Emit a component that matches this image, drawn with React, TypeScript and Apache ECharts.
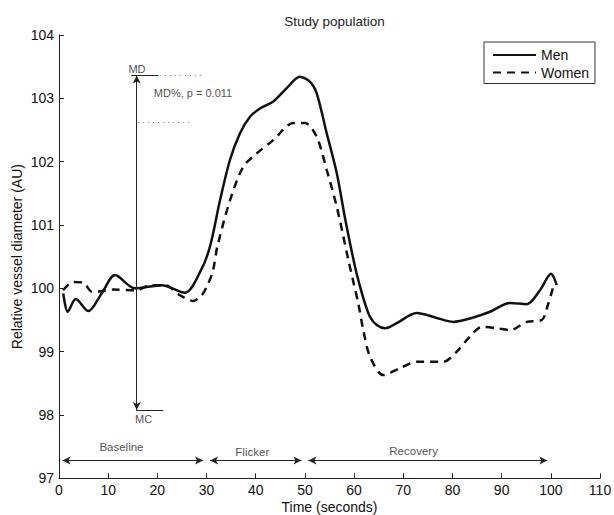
import React, { useEffect, useRef } from "react";
import * as echarts from "echarts";

// ---- data ----
const menTime = [0.87, 1.77, 3.4, 5.96, 8.68, 11.39, 15.45, 20.88, 25.62, 28.9, 30.7, 32.74, 34.77, 36.8, 38.84, 40.87, 43.57, 46.3, 48.96, 51.04, 52.4, 54.43, 56.47, 58.3, 60.19, 61.2, 62.22, 63.24, 64.6, 66.29, 68.67, 72.73, 76.5, 80.17, 84.24, 87.63, 91.7, 95.1, 97.8, 100.04, 101.2];
const menValue = [99.92, 99.63, 99.83, 99.64, 99.92, 100.21, 100.0, 100.05, 99.93, 100.29, 100.66, 101.39, 102.03, 102.45, 102.71, 102.84, 102.95, 103.16, 103.34, 103.26, 103.08, 102.45, 101.82, 101.05, 100.34, 100.03, 99.76, 99.55, 99.42, 99.37, 99.45, 99.61, 99.54, 99.47, 99.54, 99.63, 99.77, 99.75, 99.97, 100.23, 100.05];

const womenTime = [0.81, 2.91, 4.94, 6.65, 7.99, 11.04, 15.8, 18.5, 21.55, 24.6, 27.31, 29.02, 30.36, 31.31, 32.2, 34.77, 37.47, 40.2, 43.57, 47.64, 50.02, 52.4, 54.43, 56.47, 58.83, 60.0, 60.86, 61.87, 63.24, 65.94, 69.34, 72.73, 75.44, 78.14, 80.87, 83.57, 85.95, 89.0, 91.7, 95.1, 98.15, 99.49, 100.51];
const womenValue = [99.97, 100.1, 100.09, 99.95, 99.95, 99.98, 99.97, 100.05, 100.05, 99.89, 99.8, 99.89, 100.08, 100.28, 100.66, 101.39, 101.92, 102.13, 102.34, 102.61, 102.61, 102.39, 101.87, 101.29, 100.45, 100.05, 99.76, 99.34, 98.92, 98.63, 98.74, 98.84, 98.84, 98.84, 99.0, 99.24, 99.39, 99.37, 99.34, 99.47, 99.5, 99.76, 100.03];

const xTicks = { min: 0, max: 110, interval: 10 };
const yTicks = { min: 97, max: 104, interval: 1 };

// phases
const phaseNames = ["Baseline", "Flicker", "Recovery"];
const phaseStart = [0, 30, 50];
const phaseEnd = [30, 50, 100];
const phaseLabelX = [12.7, 39.3, 72.1];
const phaseLabelY = [97.49, 97.42, 97.43];
const phaseArrowY = 97.28;

// MD / MC annotation
const mdArrowX = 15.8;
const menPeak = 103.36;
const womenPeak = 102.62;
const mcLevel = 98.08;
const mdLineX = [14.7, 20.2];
const mdDotX = [20.5, 29.3];
const womenDotX = [16.1, 27.0];
const mcLineX = [15.7, 21.2];
const annoTexts = ["MD", "MD%, p = 0.011", "MC"];
const annoX = [15.86, 27.25, 17.2];
const annoY = [103.47, 103.08, 97.94];

const FONT = "'Liberation Sans', Arial, Helvetica, sans-serif";

export default function App() {
  const ref = useRef<HTMLDivElement>(null);
  useEffect(() => {
    document.body.style.margin = "0";
    if (!ref.current) return;
    const chart = echarts.init(ref.current, null, { renderer: "svg" });

    const inset = 0.7;
    const seg = (x1: number, y1: number, x2: number, y2: number, style: any, arrows: boolean) => [
      { coord: [x1, y1], symbol: arrows ? "arrow" : "none", lineStyle: style },
      { coord: [x2, y2], symbol: arrows ? "arrow" : "none", lineStyle: style },
    ];
    const solidThin = { color: "#222", width: 1, type: "solid" };
    const dotted = { color: "#777", width: 1, type: [1, 4] };

    const markData: any[] = [
      seg(mdArrowX, mcLevel, mdArrowX, menPeak, solidThin, true),
      seg(mdLineX[0], menPeak, mdLineX[1], menPeak, solidThin, false),
      seg(mdDotX[0], menPeak, mdDotX[1], menPeak, dotted, false),
      seg(womenDotX[0], womenPeak, womenDotX[1], womenPeak, dotted, false),
      seg(mcLineX[0], mcLevel, mcLineX[1], mcLevel, solidThin, false),
    ];
    phaseNames.forEach((_, i) => {
      markData.push(seg(phaseStart[i] + inset, phaseArrowY, phaseEnd[i] - inset, phaseArrowY, { color: "#222", width: 1.2, type: "solid" }, true));
    });

    const textData: any[] = [];
    annoTexts.forEach((t, i) => textData.push({ name: t, value: [annoX[i], annoY[i]], label: { fontSize: 11 } }));
    phaseNames.forEach((t, i) => textData.push({ name: t, value: [phaseLabelX[i], phaseLabelY[i]], label: { fontSize: 11.5 } }));

    chart.setOption({
      animation: false,
      textStyle: { fontFamily: FONT },
      title: {
        text: "Study population",
        left: 329.5,
        textAlign: "center",
        top: 9,
        textStyle: { fontSize: 13.5, fontWeight: "normal", color: "#222", fontFamily: FONT },
      },
      legend: {
        data: ["Men", "Women"],
        orient: "vertical",
        left: 484,
        top: 42,
        itemWidth: 43,
        itemHeight: 14,
        itemGap: 3.5,
        padding: [6, 6, 4, 8],
        borderColor: "#333",
        borderWidth: 1,
        backgroundColor: "#fff",
        itemStyle: { opacity: 0 },
        textStyle: { fontSize: 14, color: "#111", fontFamily: FONT },
      },
      grid: { left: 59, right: 14, top: 35, bottom: 36.7, outerBoundsMode: "none", containLabel: false },
      xAxis: {
        type: "value",
        min: xTicks.min,
        max: xTicks.max,
        interval: xTicks.interval,
        name: "Time (seconds)",
        nameLocation: "middle",
        nameGap: 22,
        nameMoveOverlap: false,
        nameTextStyle: { fontSize: 14, color: "#111", fontFamily: FONT },
        axisLine: { lineStyle: { color: "#222", width: 1 } },
        axisTick: { inside: true, length: 5, lineStyle: { color: "#222" } },
        axisLabel: { fontSize: 14, color: "#111", margin: 5, fontFamily: FONT },
        splitLine: { show: false },
      },
      yAxis: {
        type: "value",
        min: yTicks.min,
        max: yTicks.max,
        interval: yTicks.interval,
        name: "Relative vessel diameter (AU)",
        nameLocation: "middle",
        nameGap: 35,
        nameMoveOverlap: false,
        nameTextStyle: { fontSize: 14, color: "#111", fontFamily: FONT },
        axisLine: { show: true, lineStyle: { color: "#222", width: 1 } },
        axisTick: { show: true, inside: true, length: 5, lineStyle: { color: "#222" } },
        axisLabel: { fontSize: 14, color: "#111", margin: 5, fontFamily: FONT },
        splitLine: { show: false },
      },
      series: [
        {
          name: "Men",
          type: "line",
          data: menTime.map((t, i) => [t, menValue[i]]),
          smooth: 0.3,
          symbol: "none",
          lineStyle: { color: "#111", width: 2.5, type: "solid" },
          itemStyle: { color: "#111" },
          z: 3,
        },
        {
          name: "Women",
          type: "line",
          data: womenTime.map((t, i) => [t, womenValue[i]]),
          smooth: 0.3,
          symbol: "none",
          lineStyle: { color: "#111", width: 2.5, type: [8, 6] },
          itemStyle: { color: "#111" },
          z: 3,
        },
        {
          name: "annotations",
          type: "scatter",
          symbolSize: 0,
          silent: true,
          itemStyle: { color: "transparent" },
          data: textData,
          label: {
            show: true,
            position: [0, 0],
            align: "center",
            verticalAlign: "middle",
            formatter: "{b}",
            color: "#222",
            textBorderWidth: 0,
            fontFamily: FONT,
          },
          markLine: {
            silent: true,
            symbolSize: [6, 8],
            label: { show: false },
            data: markData,
          },
        },
      ],
    });
    return () => chart.dispose();
  }, []);
  return <div ref={ref} style={{ width: 614, height: 515 }} />;
}
